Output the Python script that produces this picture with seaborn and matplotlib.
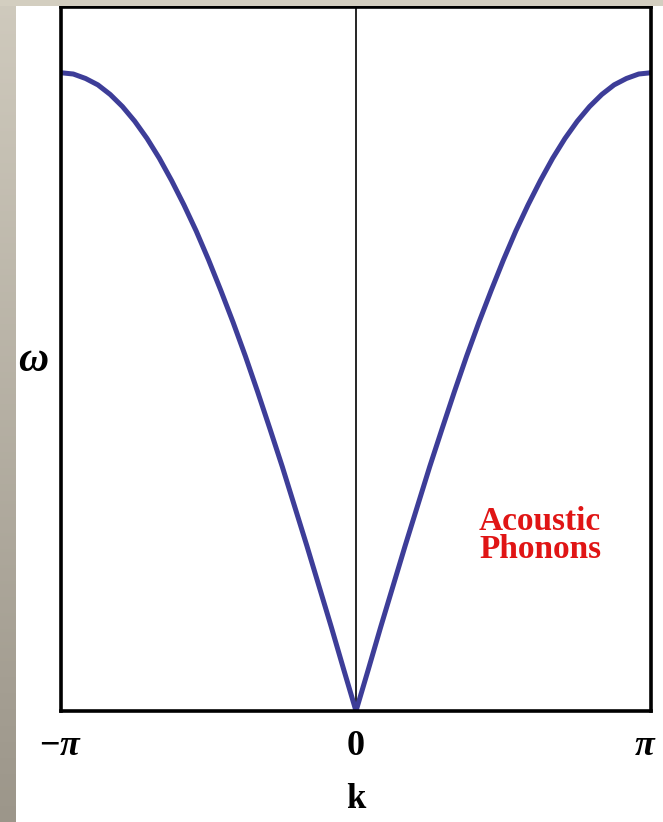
import numpy as np
import pandas as pd
import matplotlib
matplotlib.use("Agg")
import matplotlib.pyplot as plt
import matplotlib.transforms as mtransforms
import seaborn as sns
from matplotlib.patches import Rectangle

# Acoustic branch of the 1D lattice dispersion, sampled every pi/24 over the zone
k_steps = list(range(-24, 25))  # k = step * pi / 24
omega = [1.000, 0.998, 0.991, 0.981, 0.966, 0.947, 0.924, 0.897,
         0.866, 0.831, 0.793, 0.752, 0.707, 0.659, 0.609, 0.556,
         0.500, 0.442, 0.383, 0.321, 0.259, 0.195, 0.131, 0.065,
         0.000,
         0.065, 0.131, 0.195, 0.259, 0.321, 0.383, 0.442, 0.500,
         0.556, 0.609, 0.659, 0.707, 0.752, 0.793, 0.831, 0.866,
         0.897, 0.924, 0.947, 0.966, 0.981, 0.991, 0.998, 1.000]
tick_pos = [-np.pi, 0.0, np.pi]
tick_labels = [r"$\mathbf{-}\boldsymbol{\pi}$", "0", r"$\boldsymbol{\pi}$"]

df = pd.DataFrame({"k": [s * np.pi / 24 for s in k_steps], "omega": omega})

sns.set_theme(style="white")
plt.rcParams["text.color"] = "black"
plt.rcParams["xtick.color"] = "black"
plt.rcParams["axes.labelcolor"] = "black"
plt.rcParams["mathtext.fontset"] = "custom"
plt.rcParams["mathtext.rm"] = "Liberation Serif"
plt.rcParams["mathtext.it"] = "Liberation Serif:italic"
plt.rcParams["mathtext.bf"] = "Liberation Serif:bold"
plt.rcParams["mathtext.bfit"] = "Liberation Serif:bold:italic"

fig = plt.figure(figsize=(6.63, 8.22), dpi=100)
fig.patch.set_facecolor("white")

# slide-style frame: beige strip on top, shaded strip on the left
fig.patches.append(Rectangle((0, 1 - 6 / 822), 1, 6 / 822, transform=fig.transFigure,
                             facecolor="#d3cec0", edgecolor="none", zorder=0))
strip = fig.add_axes([0, 0, 16 / 663, 1])
grad = np.linspace(0, 1, 256).reshape(-1, 1)
strip.imshow(grad, aspect="auto", extent=[0, 1, 0, 1], origin="upper",
             cmap=matplotlib.colors.LinearSegmentedColormap.from_list(
                 "frame", ["#cfcabd", "#9c968a"]))
strip.set_axis_off()

ax = fig.add_axes([61 / 663, 1 - 711 / 822, 590 / 663, 704 / 822])
sns.lineplot(data=df, x="k", y="omega", ax=ax, color="#3d3d98", linewidth=3.6,
             sort=False, estimator=None)
ax.axvline(0, color="black", linewidth=1.2, zorder=1)

ax.set_xlim(-np.pi, np.pi)
ax.set_ylim(0, 1.103)
ax.set_yticks([])
ax.set_xticks(tick_pos)
ax.set_xticklabels(tick_labels, fontsize=26, fontweight="bold", family="Liberation Serif")
ax.tick_params(axis="x", length=0, pad=14)
# nudge the right-hand label slightly inward
last = ax.get_xticklabels()[-1]
last.set_transform(last.get_transform() +
                   mtransforms.ScaledTranslation(-6 / 100, 0, fig.dpi_scale_trans))
for sp in ax.spines.values():
    sp.set_visible(True)
    sp.set_color("black")
    sp.set_linewidth(2.6)

ax.set_xlabel("k", fontsize=25, fontweight="bold", family="Liberation Serif", labelpad=14)
ax.set_ylabel(r"$\boldsymbol{\omega}$", fontsize=30, rotation=0, labelpad=20, va="center")
ax.text(0.812, 0.249, "Acoustic\nPhonons", transform=ax.transAxes, ha="center", va="center",
        color="#e01515", fontsize=24, fontweight="bold", family="Liberation Serif",
        linespacing=0.88)

fig.savefig("out.png", dpi=100)
